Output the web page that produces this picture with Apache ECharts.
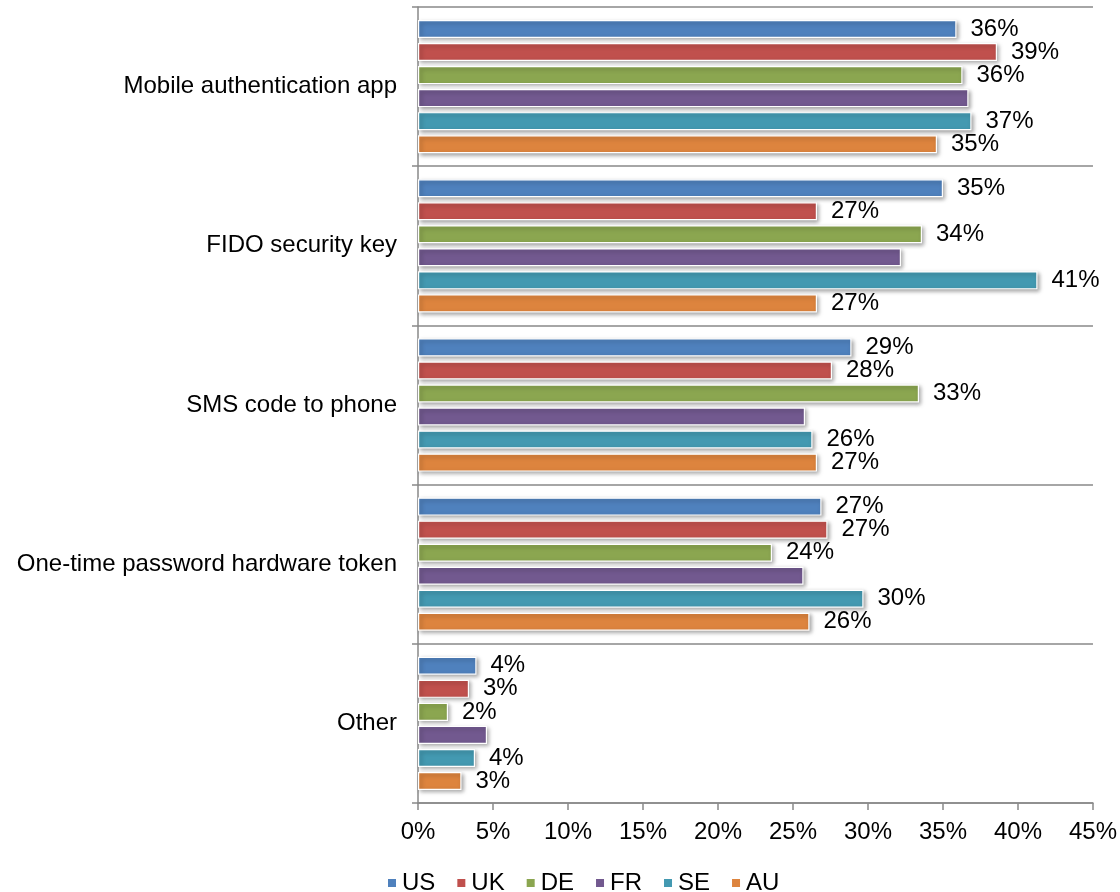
<!DOCTYPE html>
<html>
<head>
<meta charset="utf-8">
<style>
  html, body { margin: 0; padding: 0; background: #ffffff; }
  #chart { width: 1120px; height: 892px; }
</style>
<script src="https://cdn.jsdelivr.net/npm/echarts@6/dist/echarts.min.js"></script>
</head>
<body>
<div id="chart"></div>
<script>
// Preferred second-factor methods, share of respondents by country (%)
const categories = [
  'Mobile authentication app',
  'FIDO security key',
  'SMS code to phone',
  'One-time password hardware token',
  'Other'
];
const countries = ['US', 'UK', 'DE', 'FR', 'SE', 'AU'];

const US = [35.9, 35.0, 28.9, 26.9, 3.9];
const UK = [38.6, 26.6, 27.6, 27.3, 3.4];
const DE = [36.3, 33.6, 33.4, 23.6, 2.0];
const FR = [36.7, 32.2, 25.8, 25.7, 4.6];
const SE = [36.9, 41.3, 26.3, 29.7, 3.8];
const AU = [34.6, 26.6, 26.6, 26.1, 2.9];

// FR bars carry no value labels
const labelled = [true, true, true, false, true, true];

const xTicks = { min: 0, max: 45, interval: 5 };

const seriesValues = [US, UK, DE, FR, SE, AU];
const colors = ['#4F81BD', '#C0504D', '#8BA650', '#72598F', '#4399B1', '#DD843E'];

const FONT = '"Liberation Sans", Arial, Helvetica, sans-serif';
const GRAY = '#898989';

const chart = echarts.init(document.getElementById('chart'), null, { renderer: 'canvas' });

const series = countries.map((name, i) => ({
  name: name,
  type: 'bar',
  data: seriesValues[i],
  barWidth: 18,
  barGap: '28%',
  itemStyle: {
    color: colors[i],
    borderColor: '#ffffff',
    borderWidth: 1.2,
    shadowColor: 'rgba(0,0,0,0.35)',
    shadowBlur: 4,
    shadowOffsetX: 2,
    shadowOffsetY: 2
  },
  label: {
    show: labelled[i],
    position: 'right',
    distance: 14,
    color: '#000000',
    fontFamily: FONT,
    fontSize: 24,
    formatter: p => Math.round(p.value) + '%'
  },
  emphasis: { disabled: true }
}));

chart.setOption({
  animation: false,
  color: colors,
  grid: { left: 418, right: 27, top: 7, bottom: 89, containLabel: false },
  legend: {
    data: countries,
    left: 381,
    top: 866,
    itemWidth: 10,
    itemHeight: 10,
    itemGap: 20,
    icon: 'rect',
    textStyle: { color: '#000000', fontFamily: FONT, fontSize: 24 }
  },
  xAxis: {
    type: 'value',
    min: xTicks.min,
    max: xTicks.max,
    interval: xTicks.interval,
    axisLine: { show: true, lineStyle: { color: GRAY, width: 1.5 } },
    axisTick: { show: true, length: 7, lineStyle: { color: GRAY, width: 1.5 } },
    splitLine: { show: false },
    axisLabel: {
      color: '#000000',
      fontFamily: FONT,
      fontSize: 24,
      margin: 17,
      formatter: v => v + '%'
    }
  },
  yAxis: {
    type: 'category',
    data: categories,
    inverse: true,
    axisLine: { show: true, lineStyle: { color: GRAY, width: 1.5 } },
    axisTick: { show: true, length: 6, lineStyle: { color: GRAY, width: 1.5 } },
    splitLine: { show: true, lineStyle: { color: GRAY, width: 1.5 } },
    axisLabel: {
      color: '#000000',
      fontFamily: FONT,
      fontSize: 24,
      margin: 21
    }
  },
  series: series
});
</script>
</body>
</html>
